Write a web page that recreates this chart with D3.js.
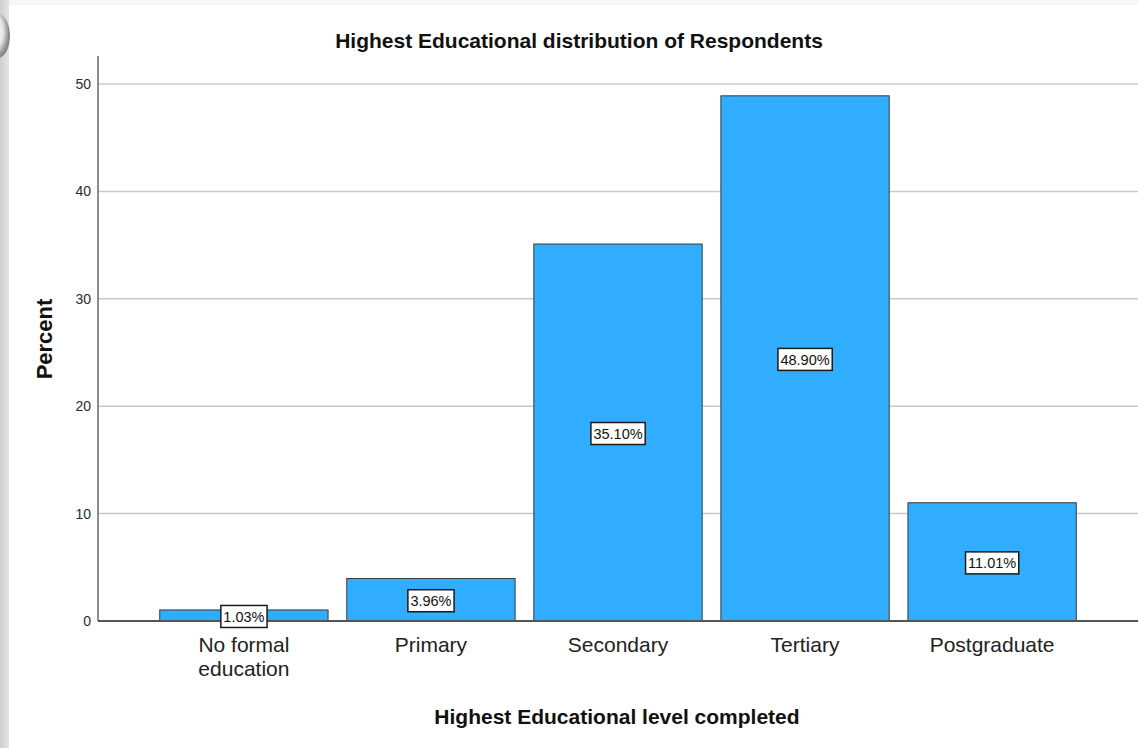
<!DOCTYPE html>
<html>
<head>
<meta charset="utf-8">
<script src="https://cdn.jsdelivr.net/npm/d3@7"></script>
<style>
  html, body { margin: 0; padding: 0; background: #fff; }
  svg { display: block; }
</style>
</head>
<body>
<script>
// Education levels and their share of respondents (%)
const categories = ["No formal education", "Primary", "Secondary", "Tertiary", "Postgraduate"];
const categoryLines = [["No formal", "education"], ["Primary"], ["Secondary"], ["Tertiary"], ["Postgraduate"]];
const percents = [1.03, 3.96, 35.10, 48.90, 11.01];
const yTicks = [0, 10, 20, 30, 40, 50];

const W = 1138, H = 748;
const FONT = "Liberation Sans, Arial, sans-serif";
const svg = d3.select("body").append("svg").attr("width", W).attr("height", H);

const defs = svg.append("defs");
const lg = defs.append("linearGradient").attr("id", "edge").attr("x1", 0).attr("x2", 1);
lg.append("stop").attr("offset", 0).attr("stop-color", "#cfcfcf");
lg.append("stop").attr("offset", 1).attr("stop-color", "#e4e4e4");
const rg = defs.append("radialGradient").attr("id", "curl").attr("cx", 0.35).attr("cy", 0.4).attr("r", 0.6);
rg.append("stop").attr("offset", 0).attr("stop-color", "#ffffff");
rg.append("stop").attr("offset", 0.6).attr("stop-color", "#e6e6e6");
rg.append("stop").attr("offset", 1).attr("stop-color", "#8a8a8a");

// page frame
svg.append("rect").attr("width", W).attr("height", 5).attr("fill", "#f6f6f6");
svg.append("rect").attr("x", 0).attr("y", 0).attr("width", 9).attr("height", H).attr("fill", "url(#edge)");
svg.append("ellipse").attr("cx", -2).attr("cy", 36).attr("rx", 12).attr("ry", 22).attr("fill", "url(#curl)");

const plot = { left: 98, right: 1138, top: 84, bottom: 621 };

const x = d3.scaleBand().domain(categories).range([plot.left, plot.right])
  .paddingInner(0.1).paddingOuter(0.33);
const y = d3.scaleLinear().domain([0, 50]).range([plot.bottom, plot.top]);

// gridlines
svg.append("g").selectAll("line").data(yTicks.filter(d => d > 0)).join("line")
  .attr("x1", plot.left).attr("x2", plot.right)
  .attr("y1", d => y(d)).attr("y2", d => y(d))
  .attr("stroke", "#c9c9c9").attr("stroke-width", 1.5);

// y axis
const yAxis = svg.append("g").attr("transform", `translate(${plot.left},0)`)
  .call(d3.axisLeft(y).tickValues(yTicks).tickSize(0).tickPadding(7));
yAxis.select(".domain").attr("stroke", "#8c8c8c").attr("stroke-width", 2)
  .attr("d", `M0,${plot.top - 28}V${plot.bottom}`);
yAxis.selectAll("text").attr("font-family", FONT)
  .attr("font-size", 14).attr("fill", "#2a2a2a");

// bars
svg.append("g").selectAll("rect").data(percents).join("rect")
  .attr("x", (d, i) => x(categories[i]))
  .attr("y", d => y(d))
  .attr("width", x.bandwidth())
  .attr("height", d => y(0) - y(d))
  .attr("fill", "#30adff").attr("stroke", "#3a3a3a").attr("stroke-width", 1);

// x axis baseline
svg.append("line").attr("x1", plot.left).attr("x2", plot.right)
  .attr("y1", y(0)).attr("y2", y(0)).attr("stroke", "#555").attr("stroke-width", 2);

// value labels
const labels = svg.append("g").selectAll("g").data(percents).join("g")
  .attr("transform", (d, i) => `translate(${x(categories[i]) + x.bandwidth() / 2},${(y(d) + y(0)) / 2 + 1})`);
labels.append("text")
  .attr("text-anchor", "middle").attr("dy", "0.36em")
  .attr("font-family", FONT).attr("font-size", 14.5).attr("fill", "#111")
  .text(d => d.toFixed(2) + "%");
labels.each(function () {
  const g = d3.select(this);
  const b = g.select("text").node().getBBox();
  g.insert("rect", "text")
    .attr("x", b.x - 2.5).attr("y", -11).attr("width", b.width + 5).attr("height", 22)
    .attr("fill", "#fff").attr("stroke", "#1a1a1a").attr("stroke-width", 1.5);
});

// category labels
const cat = svg.append("g").selectAll("text").data(categories).join("text")
  .attr("x", d => x(d) + x.bandwidth() / 2)
  .attr("y", 652)
  .attr("text-anchor", "middle")
  .attr("font-family", FONT).attr("font-size", 21).attr("fill", "#222");
cat.selectAll("tspan").data((d, i) => categoryLines[i]).join("tspan")
  .attr("x", function () { return this.parentNode.getAttribute("x"); })
  .attr("dy", (d, i) => i === 0 ? 0 : 24)
  .text(d => d);

// titles
svg.append("text").attr("x", 579).attr("y", 48).attr("text-anchor", "middle")
  .attr("font-family", FONT).attr("font-size", 21).attr("font-weight", "bold")
  .attr("fill", "#111").text("Highest Educational distribution of Respondents");
svg.append("text").attr("x", 617).attr("y", 724).attr("text-anchor", "middle")
  .attr("font-family", FONT).attr("font-size", 21).attr("font-weight", "bold")
  .attr("fill", "#111").text("Highest Educational level completed");
svg.append("text").attr("transform", "translate(52,339) rotate(-90)").attr("text-anchor", "middle")
  .attr("font-family", FONT).attr("font-size", 22).attr("font-weight", "bold")
  .attr("fill", "#111").text("Percent");
</script>
</body>
</html>
